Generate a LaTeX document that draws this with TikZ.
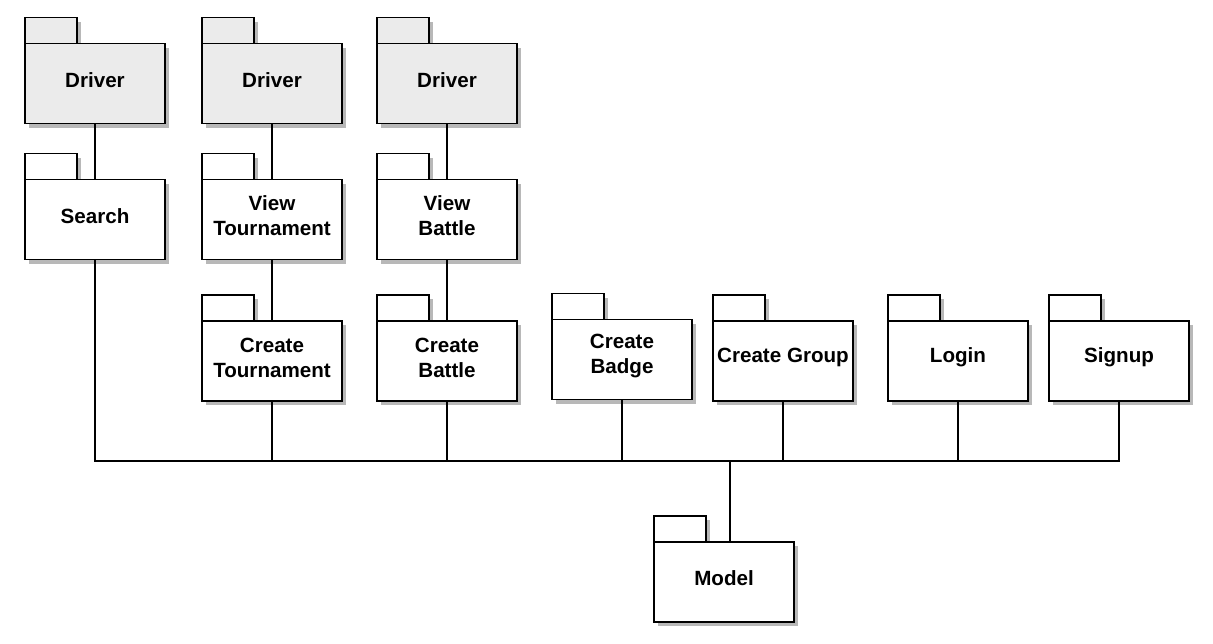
\documentclass[tikz,border=0pt]{standalone}
\usepackage{fontspec}
\setmainfont{Liberation Sans}
\usetikzlibrary{shadows,calc}

\tikzset{
  pkgshadow/.style={drop shadow={shadow xshift=4pt, shadow yshift=-4pt, fill=black!28, opacity=1}},
  pkgbody/.style={draw, line width=1.5pt, minimum width=140pt, minimum height=80pt,
    inner sep=1pt, outer sep=0pt, pkgshadow},
  pkgtab/.style={draw, line width=1.5pt, minimum width=52pt, minimum height=26pt,
    inner sep=0pt, outer sep=0pt, anchor=south west, pkgshadow},
  pkgtext/.style={align=center, inner sep=0pt, font=\fontsize{20.6}{25}\selectfont\bfseries},
  link/.style={line width=1.4pt},
  trunk/.style={line width=2.4pt}
}

\begin{document}
\begin{tikzpicture}[x=1pt,y=-1pt]
\useasboundingbox (0,0) rectangle (1213,643);

% packages: name / x / y / text / fill
\foreach \n/\x/\y/\t/\c in {
  drvA/95/83.5/Driver/black!8,
  drvB/272/83.5/Driver/black!8,
  drvC/447/83.5/Driver/black!8,
  search/95/219.5/Search/white,
  vtour/272/219.5/{View\\Tournament}/white,
  vbattle/447/219.5/{View\\Battle}/white,
  ctour/272/361/{Create\\Tournament}/white,
  cbattle/447/361/{Create\\Battle}/white,
  cbadge/622/359.5/{Create\\Badge}/white,
  cgroup/783/361/{Create Group}/white,
  login/958/361/Login/white,
  signup/1119/361/Signup/white,
  model/724/582/Model/white}{
\node[pkgtab, fill=\c] (\n-tab) at ($(\x,\y)+(-70,-40)$) {};
\node[pkgbody, fill=\c] (\n) at (\x,\y) {};
\node[pkgtext] (\n-txt) at ([yshift=3.5pt]\n.center) {\t};
}

% driver chains
\draw[link] (drvA) -- (search);
\draw[link] (drvB) -- (vtour);
\draw[link] (vtour) -- (ctour);
\draw[link] (drvC) -- (vbattle);
\draw[link] (vbattle) -- (cbattle);

% bus to model
\coordinate (mtop) at ([xshift=6pt]model.north);
\coordinate (bus) at ($(mtop)+(0,-81)$);
\foreach \p in {search,ctour,cbattle,cbadge,cgroup,login,signup}{
\draw[link] (\p.south) |- (bus);
}
\draw[trunk] (bus) -- (mtop);
\end{tikzpicture}
\end{document}
